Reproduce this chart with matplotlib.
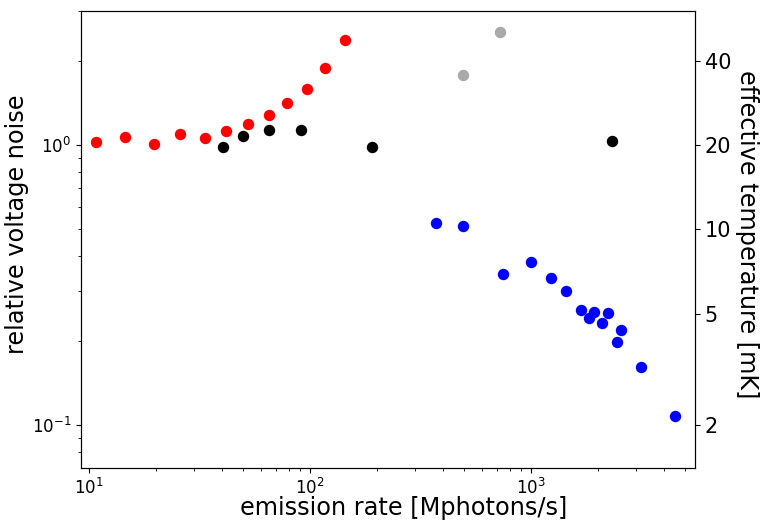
import numpy as np
import matplotlib
matplotlib.use("Agg")
import matplotlib.pyplot as plt
from matplotlib.ticker import FixedLocator, FixedFormatter, NullLocator

# emission rate [Mphotons/s] vs relative voltage noise
red_x = [10.8, 14.55, 19.6, 25.8, 33.6, 41.7, 52.2, 65.0, 78.9, 96.9, 117.3, 143.9]
red_y = [1.025, 1.068, 1.006, 1.092, 1.062, 1.125, 1.186, 1.277, 1.409, 1.589, 1.884, 2.377]

black_x = [40.5, 49.8, 65.2, 91.0, 191.4, 2325]
black_y = [0.984, 1.074, 1.131, 1.134, 0.981, 1.033]

gray_x = [492, 721]
gray_y = [1.782, 2.533]

blue_x = [372, 494, 745, 1000, 1236, 1436, 1683, 1824, 1922, 2095, 2230, 2459, 2563, 3135, 4483]
blue_y = [0.526, 0.515, 0.346, 0.383, 0.335, 0.302, 0.258, 0.242, 0.2527, 0.2314, 0.252,
          0.1974, 0.219, 0.1616, 0.1077]

temp_ticks = [2, 5, 10, 20, 40]
temp_per_noise = 20  # 1.0 relative noise == 20 mK

fig = plt.figure(figsize=(7.66, 5.21), dpi=100)
ax = fig.add_axes([0.1057, 0.1017, 0.8016, 0.8772])

ms = 7.2
ax.plot(red_x, red_y, 'o', color='red', ms=ms)
ax.plot(black_x, black_y, 'o', color='black', ms=ms)
ax.plot(gray_x, gray_y, 'o', color='darkgray', ms=ms)
ax.plot(blue_x, blue_y, 'o', color='blue', ms=ms)

ax.set_xscale('log')
ax.set_yscale('log')
ax.set_xlim(9.2, 5520)
ax.set_ylim(0.0702, 3.01)
ax.set_xlabel('emission rate [Mphotons/s]', fontsize=17.3, labelpad=-1)
ax.set_ylabel('relative voltage noise', fontsize=17.3, labelpad=2)
ax.xaxis.label.set_x(0.526)
ax.yaxis.label.set_y(0.534)
ax.tick_params(labelsize=12)

ax2 = ax.twinx()
ax2.set_yscale('log')
lo, hi = ax.get_ylim()
ax2.set_ylim(lo * temp_per_noise, hi * temp_per_noise)
ax2.yaxis.set_major_locator(FixedLocator(temp_ticks))
ax2.yaxis.set_major_formatter(FixedFormatter([str(t) for t in temp_ticks]))
ax2.yaxis.set_minor_locator(NullLocator())
ax2.tick_params(labelsize=15)
ax2.set_ylabel('effective temperature [mK]', fontsize=17.3, rotation=270, labelpad=20)
ax2.yaxis.label.set_y(0.511)

fig.savefig('out.png', dpi=100)
